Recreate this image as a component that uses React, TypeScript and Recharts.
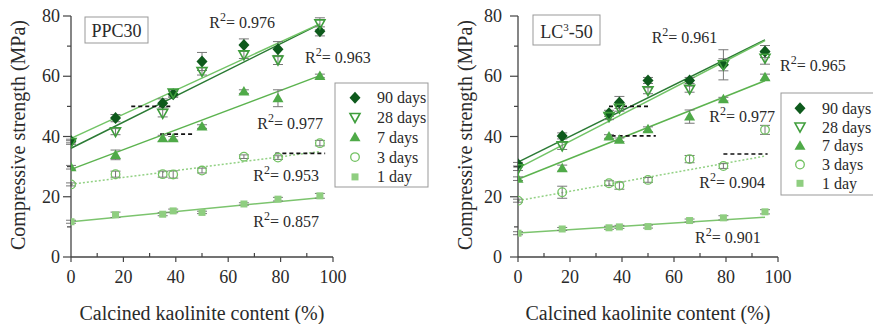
import React from 'react';
import { ComposedChart, Scatter, XAxis, YAxis, ReferenceLine, ReferenceDot, ErrorBar } from 'recharts';

const FONT = 'Liberation Serif, DejaVu Serif, serif';

// ---------- data ----------
const kaolinite = [0, 17, 35, 39, 50, 66, 79, 95];
const seriesNames = ['90 days', '28 days', '7 days', '3 days', '1 day'];
const xTicks = [0, 10, 20, 30, 40, 50, 60, 70, 80, 90, 100];
const yTicks = [0, 10, 20, 30, 40, 50, 60, 70, 80];
const trendX = [0, 95];

// PPC30
const ppc90 = [38.5, 46.1, 51.0, 54.0, 64.9, 70.4, 69.0, 74.9];
const ppc28 = [38.0, 41.6, 47.7, 54.4, 61.6, 67.1, 65.4, 77.4];
const ppc7 = [29.8, 33.9, 39.4, 39.4, 43.3, 54.9, 52.7, 60.1];
const ppc3 = [24.1, 27.5, 27.5, 27.4, 28.7, 33.3, 33.0, 37.8];
const ppc1 = [11.7, 14.0, 14.2, 15.3, 14.8, 17.6, 19.2, 20.3];
const ppcErr90 = [0.6, 1.2, 1.5, 1.0, 3.0, 2.0, 2.5, 1.5];
const ppcErr28 = [0.6, 1.0, 1.2, 1.0, 1.2, 1.2, 1.5, 2.0];
const ppcErr7 = [0.6, 1.6, 1.0, 0.6, 0.6, 0.6, 2.8, 0.6];
const ppcErr3 = [0.5, 1.0, 1.0, 1.2, 0.8, 0.6, 0.6, 0.9];
const ppcErr1 = [0.5, 0.9, 0.5, 0.6, 0.4, 0.4, 0.6, 0.8];
const ppcTrendStart = [36.1, 39.4, 29.1, 24.1, 11.7];
const ppcTrendEnd = [77.3, 77.4, 60.2, 35.0, 19.7];
const ppcDashY = [50, 40.8, 34.4];
const ppcDashFrom = [23, 34, 78];
const ppcDashTo = [39, 47, 97];
const ppcR2 = ['0.976', '0.963', '0.977', '0.953', '0.857'];

// LC3-50
const lc90 = [30.8, 40.2, 47.7, 51.3, 58.6, 58.6, 63.8, 68.2];
const lc28 = [29.3, 36.9, 46.6, 49.4, 55.2, 55.7, 63.8, 66.0];
const lc7 = [26.0, 29.5, 40.0, 38.9, 42.4, 46.6, 52.4, 59.7];
const lc3 = [18.7, 21.5, 24.5, 23.7, 25.6, 32.5, 30.2, 42.2];
const lc1 = [7.9, 9.3, 9.7, 10.0, 10.1, 12.1, 13.0, 15.0];
const lcErr90 = [0.6, 1.0, 1.0, 2.0, 1.0, 1.0, 2.0, 2.0];
const lcErr28 = [0.6, 1.2, 1.0, 1.0, 1.0, 1.0, 5.0, 2.0];
const lcErr7 = [0.6, 1.0, 0.6, 0.6, 0.8, 2.2, 0.6, 1.0];
const lcErr3 = [0.5, 2.0, 0.8, 1.2, 0.8, 1.2, 0.8, 1.5];
const lcErr1 = [0.5, 0.5, 0.5, 0.5, 0.5, 0.5, 0.7, 0.7];
const lcTrendStart = [31.5, 29.5, 25.8, 18.7, 8.0];
const lcTrendEnd = [72.1, 71.8, 58.5, 33.5, 13.2];
const lcDashY = [50, 40.2, 34.2];
const lcDashFrom = [35, 36, 79];
const lcDashTo = [51, 53, 96];
const lcR2 = ['0.961', '0.965', '0.977', '0.904', '0.901'];

// ---------- styles / layout ----------
const markerKinds = ['diamond', 'triangleDown', 'triangleUp', 'circle', 'square'];
const markerColors = ['#0e5a1c', '#3f9e3c', '#4faa48', '#72c262', '#8fce80'];
const lineColors = ['#2a7a34', '#72c466', '#5cb34f', '#92d184', '#7cc46e'];
const lineDash = [undefined, undefined, undefined, '2 2', undefined];
const AXIS = '#444';
const TXT = '#2a2a2a';
const TS = { fontFamily: FONT };

const ppcR2Pos = [
  [52.8, 76.1], [89.3, 64.4], [71.1, 42.6], [69.6, 25.3], [69.6, 10.1],
];
const lcR2Pos = [
  [51.4, 71.0], [100.8, 61.9], [73.6, 44.9], [69.7, 22.8], [68.1, 4.5],
];

function Marker({ kind, cx, cy, color }: any) {
  if (cx == null || cy == null) return null;
  switch (kind) {
    case 'diamond':
      return <polygon points={`${cx},${cy - 6} ${cx + 5.5},${cy} ${cx},${cy + 6} ${cx - 5.5},${cy}`} fill={color} />;
    case 'triangleDown':
      return <polygon points={`${cx - 5},${cy - 4} ${cx + 5},${cy - 4} ${cx},${cy + 5}`} fill="none" stroke={color} strokeWidth={1.6} />;
    case 'triangleUp':
      return <polygon points={`${cx},${cy - 5.5} ${cx + 5.5},${cy + 4} ${cx - 5.5},${cy + 4}`} fill={color} />;
    case 'circle':
      return <circle cx={cx} cy={cy} r={4.3} fill="none" stroke={color} strokeWidth={1.3} />;
    default:
      return <rect x={cx - 3.5} y={cy - 3.5} width={7} height={7} fill={color} />;
  }
}

function XTick(props: any) {
  const { x, y, payload } = props;
  const v = payload.value;
  const major = v % 20 === 0;
  return (
    <g>
      <line x1={x} x2={x} y1={y} y2={major ? y + 5 : y - 4} stroke={AXIS} strokeWidth={1.2} />
      {major && (
        <text x={x} y={y + 26} textAnchor="middle" fontSize={18} fill={TXT} style={TS}>{v}</text>
      )}
    </g>
  );
}

function YTick(props: any) {
  const { x, y, payload, gap } = props;
  const v = payload.value;
  const major = v % 20 === 0;
  return (
    <g>
      <line x1={x} x2={major ? x - 8 : x - 4} y1={y} y2={y} stroke={AXIS} strokeWidth={1.2} />
      {major && (
        <text x={x - gap} y={y + 6} textAnchor="end" fontSize={18} fill={TXT} style={TS}>{v}</text>
      )}
    </g>
  );
}

function R2Text({ cx, cy, value }: any) {
  return (
    <text x={cx} y={cy} fontSize={16} fill={TXT} style={TS}>
      R<tspan dy={-7} fontSize={12}>2</tspan><tspan dy={7}>= {value}</tspan>
    </text>
  );
}

function Panel({ left, width, axisWidth, rightMargin, series, errors, trendStart, trendEnd, dashY, dashFrom, dashTo, r2, r2Pos, gap }: any) {
  return (
    <div style={{ position: 'absolute', left, top: 0 }}>
      <ComposedChart width={width} height={324} margin={{ top: 16, right: rightMargin, bottom: 0, left: 0 }} style={TS}>
        <XAxis type="number" dataKey="x" domain={[0, 100]} ticks={xTicks} interval={0} height={67}
          tickSize={0} tickMargin={0} tickLine={false} axisLine={{ stroke: AXIS, strokeWidth: 1.3 }}
          tick={<XTick />} allowDataOverflow />
        <YAxis type="number" domain={[0, 80]} ticks={yTicks} interval={0} width={axisWidth}
          tickSize={0} tickMargin={0} tickLine={false} axisLine={{ stroke: AXIS, strokeWidth: 1.3 }}
          tick={<YTick gap={gap} />} allowDataOverflow />
        {trendStart.map((s: number, i: number) => (
          <ReferenceLine key={'t' + i} segment={[{ x: trendX[0], y: s }, { x: trendX[1], y: trendEnd[i] }]}
            stroke={lineColors[i]} strokeWidth={1.5} strokeDasharray={lineDash[i]} ifOverflow="visible" />
        ))}
        {dashY.map((y: number, i: number) => (
          <ReferenceLine key={'d' + i} segment={[{ x: dashFrom[i], y }, { x: dashTo[i], y }]}
            stroke="#111" strokeWidth={1.6} strokeDasharray="4 3" ifOverflow="visible" />
        ))}
        {series.map((vals: number[], i: number) => (
          <Scatter key={'s' + i} name={seriesNames[i]} dataKey="y" isAnimationActive={false}
            data={kaolinite.map((x, j) => ({ x, y: vals[j], err: errors[i][j] }))}
            shape={(p: any) => <Marker kind={markerKinds[i]} cx={p.cx} cy={p.cy} color={markerColors[i]} />}>
            <ErrorBar dataKey="err" direction="y" width={5} stroke="#777" strokeWidth={1} />
          </Scatter>
        ))}
        {r2.map((v: string, i: number) => (
          <ReferenceDot key={'r' + i} x={r2Pos[i][0]} y={r2Pos[i][1]} r={0} ifOverflow="visible"
            shape={(p: any) => <R2Text cx={p.cx} cy={p.cy} value={v} />} />
        ))}
      </ComposedChart>
    </div>
  );
}

function Legend({ x, y, w, h, rowY, rowGap, markerX, textX }: any) {
  return (
    <g>
      <rect x={x} y={y} width={w} height={h} fill="white" stroke="#999" strokeWidth={1} />
      {seriesNames.map((n, i) => (
        <g key={n}>
          <Marker kind={markerKinds[i]} cx={markerX} cy={rowY + i * rowGap} color={markerColors[i]} />
          <text x={textX} y={rowY + i * rowGap + 5.5} fontSize={16} fill={TXT} style={TS}>{n}</text>
        </g>
      ))}
    </g>
  );
}

export default function App() {
  return (
    <div style={{ position: 'absolute', left: 0, top: 0, width: 873, height: 324, background: 'white', overflow: 'hidden', fontFamily: FONT }}>
      <Panel left={0} width={440} axisWidth={71} rightMargin={107}
        series={[ppc90, ppc28, ppc7, ppc3, ppc1]}
        errors={[ppcErr90, ppcErr28, ppcErr7, ppcErr3, ppcErr1]}
        trendStart={ppcTrendStart} trendEnd={ppcTrendEnd}
        dashY={ppcDashY} dashFrom={ppcDashFrom} dashTo={ppcDashTo}
        r2={ppcR2} r2Pos={ppcR2Pos} gap={11} />
      <Panel left={440} width={433} axisWidth={78} rightMargin={95}
        series={[lc90, lc28, lc7, lc3, lc1]}
        errors={[lcErr90, lcErr28, lcErr7, lcErr3, lcErr1]}
        trendStart={lcTrendStart} trendEnd={lcTrendEnd}
        dashY={lcDashY} dashFrom={lcDashFrom} dashTo={lcDashTo}
        r2={lcR2} r2Pos={lcR2Pos} gap={16} />
      <svg width={873} height={324} style={{ position: 'absolute', left: 0, top: 0, pointerEvents: 'none', fontFamily: FONT }}>
        <text transform="translate(24.5,135) rotate(-90)" textAnchor="middle" fontSize={20} fill={TXT} style={TS}>Compressive strength (MPa)</text>
        <text transform="translate(472,135) rotate(-90)" textAnchor="middle" fontSize={20} fill={TXT} style={TS}>Compressive strength (MPa)</text>
        <text x={202} y={320} textAnchor="middle" fontSize={20} fill={TXT} style={TS}>Calcined kaolinite content (%)</text>
        <text x={648} y={320} textAnchor="middle" fontSize={20} fill={TXT} style={TS}>Calcined kaolinite content (%)</text>
        <rect x={85} y={17} width={63} height={26} fill="white" stroke="#999" />
        <text x={116.5} y={37} textAnchor="middle" fontSize={18} fill={TXT} style={TS}>PPC30</text>
        <rect x={533} y={15} width={67} height={30} fill="white" stroke="#999" />
        <text x={566.5} y={38} textAnchor="middle" fontSize={18} fill={TXT} style={TS}>
          LC<tspan dy={-7} fontSize={11}>3</tspan><tspan dy={7}>-50</tspan>
        </text>
        <Legend x={335} y={83} w={93} h={104} rowY={97.7} rowGap={19.8} markerX={355} textX={377} />
        <Legend x={781} y={93} w={100} h={102} rowY={108.3} rowGap={18.75} markerX={800} textX={822} />
      </svg>
    </div>
  );
}
